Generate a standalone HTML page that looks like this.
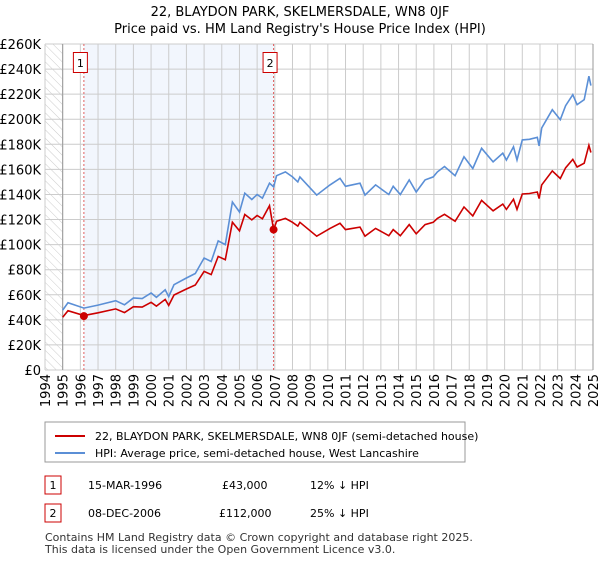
<!DOCTYPE html>
<html><head><meta charset="utf-8"><style>
body{margin:0;background:#fff;font-family:"Liberation Sans","DejaVu Sans",sans-serif;}
</style></head><body>
<svg id="chart" width="600" height="560" xmlns="http://www.w3.org/2000/svg" font-family="DejaVu Sans, Liberation Sans, sans-serif">
<defs><pattern id="hatch" width="6" height="6" patternUnits="userSpaceOnUse" patternTransform="rotate(-45)"><line x1="0" y1="0" x2="0" y2="6" stroke="#ccc" stroke-width="1"/></pattern></defs>
<text x="300" y="16" text-anchor="middle" font-size="13">22, BLAYDON PARK, SKELMERSDALE, WN8 0JF</text>
<text x="300" y="33" text-anchor="middle" font-size="13">Price paid vs. HM Land Registry's House Price Index (HPI)</text>
<g id="plot"></g>
<g>
<rect x="45" y="422" width="420" height="40" fill="#fff" stroke="#999"/>
<line x1="55" y1="436" x2="85" y2="436" stroke="#cc0000" stroke-width="2"/>
<text x="95" y="440" font-size="11">22, BLAYDON PARK, SKELMERSDALE, WN8 0JF (semi-detached house)</text>
<line x1="55" y1="453" x2="85" y2="453" stroke="#5b8fd6" stroke-width="2"/>
<text x="95" y="457" font-size="11">HPI: Average price, semi-detached house, West Lancashire</text>
</g>
<g font-size="11">
<rect x="45" y="476" width="16" height="18" fill="#fff" stroke="#cc0000"/><text x="53" y="489" text-anchor="middle">1</text>
<text x="88" y="489">15-MAR-1996</text><text x="222" y="489">£43,000</text><text x="310" y="489">12% ↓ HPI</text>
<rect x="45" y="504" width="16" height="18" fill="#fff" stroke="#cc0000"/><text x="53" y="517" text-anchor="middle">2</text>
<text x="88" y="517">08-DEC-2006</text><text x="219" y="517">£112,000</text><text x="310" y="517">25% ↓ HPI</text>
</g>
<text x="45" y="541" font-size="11" fill="#333">Contains HM Land Registry data © Crown copyright and database right 2025.</text>
<text x="45" y="553" font-size="11" fill="#333">This data is licensed under the Open Government Licence v3.0.</text>
</svg>
<script>
const dates=[1995.0,1995.3,1996.2,1997.0,1998.0,1998.5,1999.0,1999.5,2000.0,2000.3,2000.8,2001.0,2001.3,2002.0,2002.5,2003.0,2003.4,2003.8,2004.2,2004.6,2005.0,2005.3,2005.7,2006.0,2006.3,2006.7,2006.93,2007.1,2007.6,2008.0,2008.3,2008.42,2009.37,2010.12,2010.69,2011.0,2011.82,2012.1,2012.7,2013.45,2013.7,2014.1,2014.6,2015.0,2015.5,2015.96,2016.2,2016.6,2017.2,2017.7,2018.2,2018.7,2019.35,2019.9,2020.1,2020.5,2020.7,2021.0,2021.4,2021.85,2021.95,2022.1,2022.7,2023.15,2023.45,2023.86,2024.1,2024.5,2024.77,2024.88];
const hpi=[47.8,53.7,49.4,51.8,55.3,52,57.4,57,61.4,58,64,58.5,68,73.4,77,89.3,86.5,103,100,134,126,141,136,140,137,149,146,155,158,154,150,154,139.5,147.6,152.9,146.5,149,139.5,147.6,140,146.5,140,151.6,142,151.6,154,158,162.3,155,170,160.7,176.8,166,172.9,167.5,178,167.5,183.5,184,185.6,178.7,193,207.6,199.6,210.8,219.6,211.6,215.6,234.3,226.8];
const paid=[42.1,47.3,43.5,45.6,48.7,45.8,50.5,50.2,54,51,56.3,51.5,59.8,64.6,67.8,78.6,76.1,90.6,88,117.9,110.9,124,119.7,123.2,120.6,131,112,118.6,120.9,117.8,114.8,117.8,106.7,112.9,117,112,114,106.7,112.9,107.1,112,107.1,116,108.6,116,117.8,120.9,124.2,118.6,130,122.9,135.3,127,132.3,128.1,136.2,128.1,140.4,140.8,142,136.7,147.6,158.8,152.7,161.3,168,161.9,164.9,179.2,173.5];
const saleDates=[1996.2,2006.93];
const salePrices=[43,112];
const saleLabels=["1","2"];
const yTicks=[0,20,40,60,80,100,120,140,160,180,200,220,240,260];
const xYears=[];for(let y=1994;y<=2025;y++)xYears.push(y);

const NS="http://www.w3.org/2000/svg";
const L=45,R=593,T=44,B=370;
const sx=v=>L+(v-1994)/(2025-1994)*(R-L);
const sy=v=>B-v/260*(B-T);
const g=document.getElementById('plot');
function mk(tag,attrs,parent){const e=document.createElementNS(NS,tag);for(const k in attrs)e.setAttribute(k,attrs[k]);(parent||g).appendChild(e);return e;}
let e;
e=mk('rect',{x:sx(1994),y:T,width:sx(1995)-sx(1994),height:B-T,fill:'url(#hatch)'});


e=mk('rect',{x:sx(saleDates[0]),y:T,width:sx(saleDates[1])-sx(saleDates[0]),height:B-T,fill:'#f2f6fd'});


yTicks.forEach(v=>{
 e=mk('line',{x1:L,x2:R,y1:sy(v),y2:sy(v),stroke:'#ccc','stroke-width':1});
 
 
 e=mk('text',{x:L-4,y:sy(v)+5,'text-anchor':'end','font-size':13});
 e.textContent=v===0?'£0':'£'+v+'K';
 
 
});
xYears.forEach(v=>{
 e=mk('line',{x1:sx(v),x2:sx(v),y1:T,y2:B,stroke:'#ccc','stroke-width':1});
 
 
 const x=sx(v)+5,y=B+4;
 e=mk('text',{x:x,y:y,'text-anchor':'end','font-size':13,transform:`rotate(-90 ${x} ${y})`});
 e.textContent=v;
 
 
});
e=mk('line',{x1:sx(1995),x2:sx(1995),y1:T,y2:B,stroke:'#999'});


e=mk('line',{x1:R,x2:R,y1:T,y2:B,stroke:'#999'});


saleDates.forEach((d,i)=>{
 e=mk('line',{x1:sx(d),x2:sx(d),y1:T,y2:B,stroke:'#e06060','stroke-dasharray':'2,2','stroke-width':1});
 
 
 e=mk('rect',{x:sx(d)-10.5,y:52.5,width:14,height:20,fill:'#fff',stroke:'#cc0000'});
 
 
 e=mk('text',{x:sx(d)-3.5,y:67,'text-anchor':'middle','font-size':11});
 e.textContent=saleLabels[i];
 
 
});
const path=arr=>arr.map((v,i)=>(i?'L':'M')+sx(dates[i]).toFixed(1)+','+sy(v).toFixed(1)).join('');
e=mk('path',{d:path(hpi),fill:'none',stroke:'#5b8fd6','stroke-width':1.6});


e=mk('path',{d:path(paid),fill:'none',stroke:'#cc0000','stroke-width':1.6});


saleDates.forEach((d,i)=>{
 e=mk('circle',{cx:sx(d),cy:sy(salePrices[i]),r:4,fill:'#cc0000'});
 
 
});
</script>
</body></html>
